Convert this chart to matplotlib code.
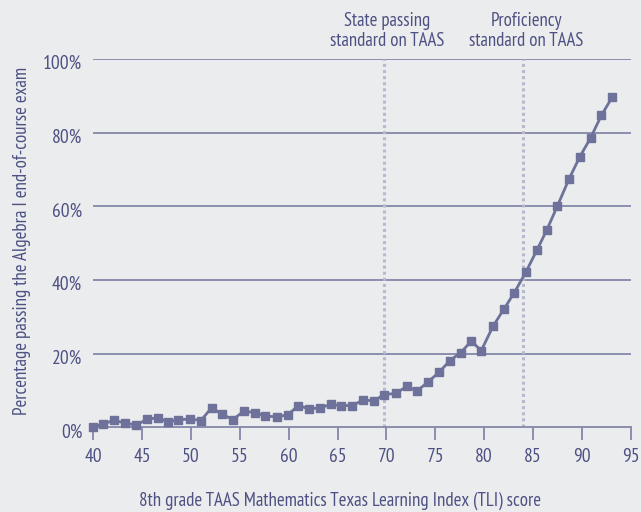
import matplotlib
matplotlib.use("Agg")
import matplotlib.pyplot as plt
from matplotlib.transforms import ScaledTranslation

# Data
tli_score = [40.0, 41.0, 42.1, 43.2, 44.4, 45.5, 46.6, 47.6, 48.7, 49.9,
             51.0, 52.1, 53.2, 54.3, 55.4, 56.5, 57.6, 58.8, 59.9, 61.0,
             62.1, 63.2, 64.3, 65.4, 66.5, 67.6, 68.7, 69.8, 71.0, 72.1,
             73.1, 74.3, 75.4, 76.5, 77.6, 78.7, 79.7, 80.9, 82.0, 83.1,
             84.3, 85.4, 86.4, 87.5, 88.7, 89.8, 90.9, 92.0, 93.1]
pct_passing = [0.0, 0.9, 1.9, 1.2, 0.6, 2.2, 2.6, 1.5, 2.0, 2.3,
               1.8, 5.3, 3.5, 2.1, 4.4, 4.0, 3.1, 2.8, 3.4, 5.9,
               5.0, 5.3, 6.2, 5.9, 5.9, 7.4, 7.2, 8.9, 9.2, 11.2,
               9.8, 12.4, 15.0, 18.1, 20.3, 23.4, 20.8, 27.4, 32.0, 36.6,
               42.3, 48.1, 53.5, 60.1, 67.5, 73.5, 78.6, 84.7, 89.6]
standards_x = [69.8, 84.0]
standards_labels = ["State passing\nstandard on TAAS", "Proficiency\nstandard on TAAS"]
y_ticks = [0, 20, 40, 60, 80, 100]
y_ticklabels = ["0%", "20%", "40%", "60%", "80%", "100%"]
x_ticks = [40, 45, 50, 55, 60, 65, 70, 75, 80, 85, 90, 95]

FONT = ['PT Sans Narrow', 'Fira Sans Condensed', 'DejaVu Sans']
plt.rcParams['font.family'] = FONT

BG = '#ebecee'
LINE = '#6e7199'
GRID = '#8487aa'
TEXT = '#4d5082'
DOT = '#b8b9cd'

W, H = 641, 512
fig = plt.figure(figsize=(W / 100, H / 100), dpi=100, facecolor=BG)
ax = fig.add_axes([93.3 / W, 1 - 427.3 / H, (630.7 - 93.3) / W, (427.3 - 59) / H],
                  facecolor=BG)

ax.set_xlim(40, 95)
ax.set_ylim(0, 100)

for yv in y_ticks[1:]:
    ax.axhline(yv, color=GRID, lw=1.3, zorder=1)

for sx in standards_x:
    ax.plot([sx, sx], [0, 100], color=DOT, lw=2.2, ls=(0, (1, 1)), zorder=2)

ax.plot(tli_score, pct_passing, color=LINE, lw=2.0, marker='s', ms=5.4,
        mec=LINE, mfc=LINE, zorder=4, clip_on=False)

for sx, lab in zip(standards_x, standards_labels):
    ax.text(sx + 0.3, 103.6, lab, ha='center', va='baseline', fontsize=13.5,
            color=TEXT, linespacing=1.12, transform=ax.transData)

for s in ['top', 'right', 'left']:
    ax.spines[s].set_visible(False)
ax.spines['bottom'].set_color(GRID)
ax.spines['bottom'].set_linewidth(1.3)

ax.set_xticks(x_ticks)
ax.set_xticklabels([str(v) for v in x_ticks])
ax.set_yticks(y_ticks)
ax.set_yticklabels(y_ticklabels)
ax.tick_params(axis='x', length=9, width=1.3, color=GRID, labelcolor=TEXT,
               labelsize=14, pad=6)
ax.tick_params(axis='y', length=0, labelcolor=TEXT, labelsize=14, pad=8)
shift = ScaledTranslation(0, -0.03, fig.dpi_scale_trans)
for lbl in ax.get_yticklabels():
    lbl.set_transform(lbl.get_transform() + shift)

fig.text(340 / W, 1 - 501 / H,
         "8th grade TAAS Mathematics Texas Learning Index (TLI) score",
         fontsize=13.6, color=TEXT, ha='center', va='center')
fig.text(22 / W, 1 - 241 / H,
         "Percentage passing the Algebra I end-of-course exam",
         fontsize=13.6, color=TEXT, ha='center', va='center', rotation=90)

fig.savefig("out.png", dpi=100, facecolor=BG)
